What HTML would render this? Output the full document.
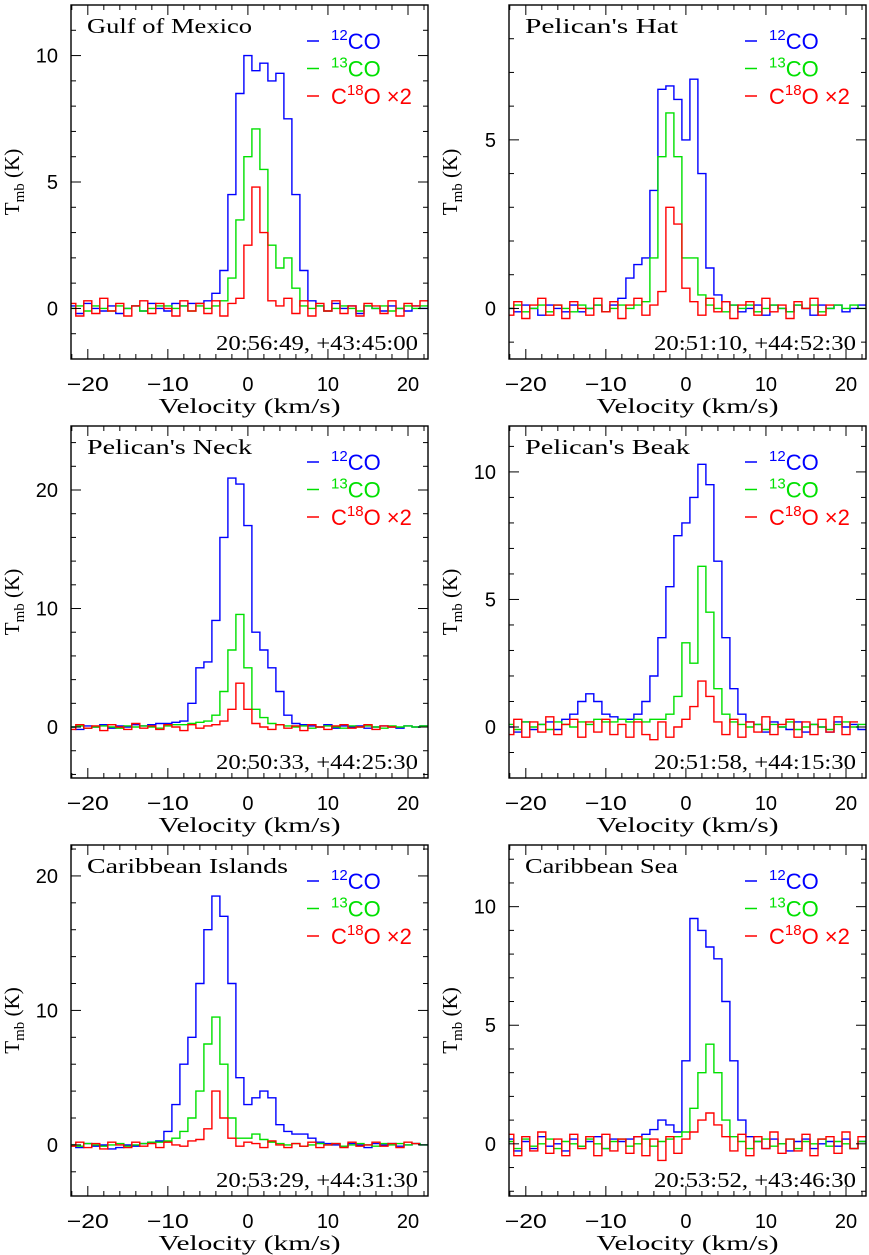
<!DOCTYPE html>
<html><head><meta charset="utf-8">
<style>
html,body{margin:0;padding:0;background:#fff;}
svg{display:block;}
.tl{font-family:"Liberation Sans",sans-serif;font-size:20px;fill:#000;}
.ti{font-family:"Liberation Serif",serif;font-size:21px;fill:#000;}
.lg{font-family:"Liberation Sans",sans-serif;font-size:22px;}
</style></head>
<body>
<svg id="fig" width="869" height="1255" viewBox="0 0 869 1255" xmlns="http://www.w3.org/2000/svg"></svg>
<script>
// velocity channels (km/s)
const velocities = [-22,-21,-20,-19,-18,-17,-16,-15,-14,-13,-12,-11,-10,-9,-8,-7,-6,-5,-4,-3,-2,-1,0,1,2,3,4,5,6,7,8,9,10,11,12,13,14,15,16,17,18,19,20,21,22];
const panelNames = ["Gulf of Mexico","Pelican's Hat","Pelican's Neck","Pelican's Beak","Caribbean Islands","Caribbean Sea"];
const panelCoords = ["20:56:49, +43:45:00","20:51:10, +44:52:30","20:50:33, +44:25:30","20:51:58, +44:15:30","20:53:29, +44:31:30","20:53:52, +43:46:30"];
const xTickLabels = [-20,-10,0,10,20];
const yRanges = [[-2,12],[-1.5,9],[-4.3,25.4],[-2,11.8],[-3.8,22.3],[-2.2,12.6]];
const yTickLabels = [[0,5,10],[0,5],[0,10,20],[0,5,10],[0,10,20],[0,5,10]];
const yMinorStep = [1,1,2,1,2,1];
// Gulf of Mexico
const gulf12 = [0.1,-0.2,0.2,0,-0.1,0.1,-0.2,0,0.1,-0.1,0.2,0,-0.1,0.2,0.1,0.2, 0.2,0.3,0.6,1.5,4.5,8.5,10,9.4,9.7,9.0,9.3,7.5,4.5,1.5,0.3, 0.1,-0.1,0.2,0,0.1,-0.2,0.1,0,-0.1,0.1,0,-0.1,0.1,0];
const gulf13 = [0,0.1,-0.1,0.1,0,-0.1,0.1,0,0.1,-0.1,0,0.1,0.1,0,0.1,-0.1,0.1,0,0.1, 0.3,1.2,3.5,6.0,7.1,5.5,2.5,1.6,2.0,0.8,0.1, 0,0.1,-0.1,0,0.1,0,-0.1,0.1,0,0.1,-0.1,0,0.1,0,0.1];
const gulf18 = [0.2,-0.3,0.3,-0.2,0.4,-0.1,0.2,-0.3,0.1,0.3,-0.2,0.2,0,-0.3,0.3,-0.1,0.2,-0.2,0.3,-0.3,0.2, 0.4,2.5,4.8,3.0,0.3,0.1,0.4, -0.2,0.3,-0.3,0.2,-0.1,0.3,-0.2,0.1,-0.3,0.2,0.1,-0.2,0.3,-0.3,0.2,0.1,0.3];
// Pelican's Hat
const hat12 = [0,-0.1,0.1,0,-0.2,0.1,0,-0.1,0.1,-0.1,0,0.1,-0.1,0.1, 0.3,0.9,1.3,1.5,3.5,6.5,6.6,6.2,5.0,6.8,4.0,1.2,0.4,0.2, 0.1,-0.1,0,0.1,-0.2,0.1,0,-0.1,0.1,0,-0.2,0.1,0,0.1,-0.1,0,0.1];
const hat13 = [0,0.1,-0.1,0,0.1,-0.1,0.1,0,-0.1,0.1,0,0.1,-0.1,0,0.1,0,0.1, 0.2,1.5,4.5,5.8,4.5,1.5,1.5,0.4, 0.1,0,-0.1,0.1,0,0.1,-0.1,0,0.1,0,-0.1,0.1,0,0.1,-0.1,0,0.1,0,0.1,0];
const hat18 = [-0.2,0.2,-0.3,0.1,0.3,-0.2,0.1,-0.3,0.2,0,-0.2,0.3,-0.1,0.2,-0.3,0.1,0.3,-0.2,0.1, 0.5,3.0,2.5,0.6,0.2, -0.2,0.3,-0.1,0.2,-0.3,0.1,0.2,-0.2,0.3,-0.1,0.1,-0.3,0.2,0,0.3,-0.2,0.1];
// Pelican's Neck
const neck12 = [0,-0.2,0.1,0,0.2,-0.1,0.1,0,0.2,0.1,0.2,0.3,0.3,0.4, 0.5,2,5,5.5,9,16,21,20.5,17,8,6.5,5,3,1,0.3, 0.2,0.1,0,0.2,-0.1,0.1,0,0.1,-0.1,0,0.1,0,-0.1,0.1,0,0.1];
const neck13 = [0,0.1,-0.1,0,0.1,0,-0.1,0.1,0,0.1,0,-0.1,0.1,0.2,0.2,0.3,0.4, 0.5,1,3,6.5,9.5,5,1.5,0.8,0.3, 0.2,0.1,0,0.1,-0.1,0,0.1,0,-0.1,0.1,0,0.1,0,-0.1,0.1,0,0.1,0,0.1];
const neck18 = [-0.2,0.2,-0.1,0.1,-0.3,0.2,0,-0.2,0.3,-0.1,0.1,-0.2,0.2,0,-0.3,0.2,-0.1,0.1,0.2, 0.5,1.5,3.7,1.5,0.3, 0,-0.2,0.2,-0.1,0.1,-0.3,0.2,0,-0.2,0.1,0.2,-0.1,0,0.2,-0.2,0.1,0];
// Pelican's Beak
const beak12 = [0,-0.2,0.2,-0.1,0.1,0.2,-0.1,0.3, 0.5,1.0,1.3,1.0,0.5,0.4,0.3,0.3,0.5,1.0,2.0,3.5,5.5,7.5,8.0,9.0,10.3,9.5,6.5,3.5,1.5,0.5,0.2, 0.1,-0.2,0.2,0,-0.1,0.2,-0.2,0.1,0,-0.2,0.2,0,0.1,-0.1];
const beak13 = [0.1,-0.1,0.2,0,0.1,-0.1,0.2,0.1,0,0.2,0.1,0.3,0.2,0.2,0.3,0.2,0.3,0.2,0.3, 0.3,0.5,1.2,3.3,2.5,6.3,4.5,1.5,0.5, 0.2,0.1,0,0.1,-0.1,0.1,0,0.2,-0.1,0,0.1,0,-0.1,0.1,0.2,0,0.1];
const beak18 = [-0.3,0.3,-0.4,0.2,-0.2,0.4,-0.3,0.1,0.3,-0.4,0.2,-0.2,0.3,-0.3,0.1,-0.4,0.2,-0.3,-0.5,0.2,-0.4,0, 0.3,0.8,1.8,1.2,0.2, -0.3,0.3,-0.4,0.2,-0.2,0.4,-0.3,0.1,0.3,-0.4,0.2,-0.3,0.3,-0.2,0.4,-0.3,0.2];
// Caribbean Islands
const isl12 = [0,-0.2,0.1,-0.1,0,-0.3,-0.2,0,-0.1,0.1,0.2, 0.3,1,3,6,8,12,16,18.5,17,12,5,3,3.5,4,3.5,1.5,1,0.8,0.8,0.5,0.2, 0.1,0,-0.1,0.1,0,-0.2,0.1,0,0.1,-0.1,0,0.1,0];
const isl13 = [0,-0.1,0.1,0,-0.1,0,0.1,-0.1,0,0.1,0.2,0.2,0.3, 0.5,1,2,4,7.5,9.5,6,2,0.5,0.5,0.8,0.4, 0.2,0.1,0,0.1,-0.1,0,0.1,0,0.1,-0.1,0,0.1,0,-0.1,0.1,0,0.1,0,0.1,0];
const isl18 = [-0.1,0.2,-0.2,0.1,-0.3,0.2,0,-0.2,0.2,-0.1,0.1,-0.2,0.2,0,-0.1,0.3,0.4, 1.2,4,2,0.5, -0.1,0.2,0.1,-0.2,0.3,0,-0.2,0.1,-0.1,0.2,-0.2,0,0.1,-0.2,0.2,-0.1,0,0.2,-0.1,0.1,-0.2,0.2,0.1];
// Caribbean Sea
const sea12 = [0.2,-0.3,0.1,-0.2,0.3,-0.1,0,-0.3,0.2,-0.1,0.1,0.3,-0.2,0.2,0.1,0.2, 0.3,0.4,0.6,1,0.8,0.5,3.5,9.5,9,8.3,7.8,6,3.5,1,0.3, 0.1,-0.2,0.2,0,-0.3,0.1,0.2,-0.2,0,0.1,-0.1,0.2,-0.2,0.1];
const sea13 = [0.1,-0.2,0.2,-0.1,0,0.2,-0.2,0.1,0,-0.1,0.2,0,-0.2,0.1,0.2,-0.1,0,0.2,-0.1,0.1,0.2,0.3, 0.5,1.5,3,4.2,3,1,0.3, 0.1,-0.2,0.1,0.2,-0.1,0,0.2,-0.2,0.1,0,0.2,-0.1,0.1,0,-0.2,0.1];
const sea18 = [0.4,-0.5,0.3,-0.3,0.5,-0.4,0.2,-0.5,0.4,-0.2,0.3,-0.5,0.4,-0.3,0.2,-0.4,0.3,-0.5,0.2,-0.7,0.3,-0.4,0.2, 0.5,1,1.3,0.8,0.3, -0.3,0.4,-0.5,0.3,-0.2,0.5,-0.4,0.2,-0.3,0.4,-0.5,0.2,0.3,-0.4,0.5,-0.2,0.3];
const series12 = [gulf12,hat12,neck12,beak12,isl12,sea12];
const series13 = [gulf13,hat13,neck13,beak13,isl13,sea13];
const series18 = [gulf18,hat18,neck18,beak18,isl18,sea18];

const NS="http://www.w3.org/2000/svg";
const svg=document.getElementById('fig');
const colX=[[71,428],[509,866]];
const rowY=[[5,359],[426,778],[845,1196]];
const XMIN=-22.1, XMAX=22.5;
function mk(tag,attrs,parent){const e=document.createElementNS(NS,tag);for(const k in attrs)e.setAttribute(k,attrs[k]);(parent||svg).appendChild(e);return e;}

for(let p=0;p<6;p++){
  const [x0,x1]=colX[p%2],[y0,y1]=rowY[Math.floor(p/2)];
  const [ymin,ymax]=yRanges[p];
  const X=v=>x0+(v-XMIN)/(XMAX-XMIN)*(x1-x0);
  const Y=t=>y1-(t-ymin)/(ymax-ymin)*(y1-y0);
  const g=mk('g',{});
  
  
  const cols=['#0000ff','#00e000','#ff0000'];
  const names=['co12-spectrum','co13-spectrum','c18o-spectrum'];
  [series12[p],series13[p],series18[p]].forEach((arr,si)=>{
    let d='';
    arr.forEach((t,i)=>{
      const v=velocities[i];
      const xa=Math.max(X(v-0.5),x0), xb=Math.min(X(v+0.5),x1);
      const yy=Y(t).toFixed(1);
      d+=(i===0?'M':'L')+xa.toFixed(1)+','+yy+'L'+xb.toFixed(1)+','+yy;
    });
    const path=mk('path',{d:d,fill:'none',stroke:cols[si],'stroke-width':1.4},g);
    
    
  });
  const fr=mk('rect',{x:x0,y:y0,width:x1-x0,height:y1-y0,fill:'none',stroke:'#000','stroke-width':1.4},g);
  
  
  for(let v=-22;v<=22;v+=2){
    const L=(v%10===0)?10:5, xx=X(v);
    mk('line',{x1:xx,x2:xx,y1:y1,y2:y1-L,stroke:'#000','stroke-width':1},g);
    mk('line',{x1:xx,x2:xx,y1:y0,y2:y0+L,stroke:'#000','stroke-width':1},g);
  }
  xTickLabels.forEach(v=>{
    const s=(v<0?'\u2212':'')+Math.abs(v);
    const t=mk('text',{x:X(v),y:y1+32,'text-anchor':'middle',class:'tl'},g);
    t.textContent=s;
    if(v<0){t.setAttribute('textLength',42);t.setAttribute('lengthAdjust','spacingAndGlyphs');}
    
    
  });
  const st=yMinorStep[p];
  for(let t=Math.ceil(ymin/st)*st;t<=ymax;t+=st){
    const major=yTickLabels[p].includes(t), L=major?10:5, yy=Y(t);
    mk('line',{x1:x0,x2:x0+L,y1:yy,y2:yy,stroke:'#000','stroke-width':1},g);
    mk('line',{x1:x1,x2:x1-L,y1:yy,y2:yy,stroke:'#000','stroke-width':1},g);
  }
  yTickLabels[p].forEach(t=>{
    const tx=mk('text',{x:x0-13,y:Y(t)+7,'text-anchor':'end',class:'tl'},g);
    tx.textContent=t;
    
    
  });
  const xt=mk('text',{x:(x0+x1)/2,y:y1+54,'text-anchor':'middle',class:'ti',textLength:182,lengthAdjust:'spacingAndGlyphs'},g);
  xt.textContent='Velocity (km/s)';
  
  
  const yc=(y0+y1)/2, yx=x0-52;
  const yt=mk('text',{x:yx,y:yc,'text-anchor':'middle',class:'ti',transform:'rotate(-90 '+yx+' '+yc+')'},g);
  yt.innerHTML='T<tspan font-size="15" dy="5">mb</tspan><tspan dy="-5"> (K)</tspan>';
  
  
  const pt=mk('text',{x:x0+16,y:y0+28,class:'ti',textLength:(panelNames[p].length*11.8).toFixed(0),lengthAdjust:'spacingAndGlyphs'},g);
  pt.textContent=panelNames[p];
  
  
  const ct=mk('text',{x:x1-212,y:y1-9,class:'ti',textLength:202,lengthAdjust:'spacingAndGlyphs'},g);
  ct.textContent=panelCoords[p];
  
  
  const lx=x0+236;
  for(let k=0;k<3;k++){
    const ly=y0+36+k*27.5;
    const ln=mk('line',{x1:lx,x2:lx+12,y1:ly,y2:ly,stroke:cols[k],'stroke-width':1.5},g);
    
    
    const tx=mk('text',{x:lx+24,y:ly+8,class:'lg',fill:cols[k]},g);
    if(k===0) tx.innerHTML='<tspan font-size="15" dy="-9">12</tspan><tspan dy="9">CO</tspan>';
    else if(k===1) tx.innerHTML='<tspan font-size="15" dy="-9">13</tspan><tspan dy="9">CO</tspan>';
    else tx.innerHTML='C<tspan font-size="15" dy="-9">18</tspan><tspan dy="9">O \u00d72</tspan>';
    
    
  }
}
</script>
</body></html>
